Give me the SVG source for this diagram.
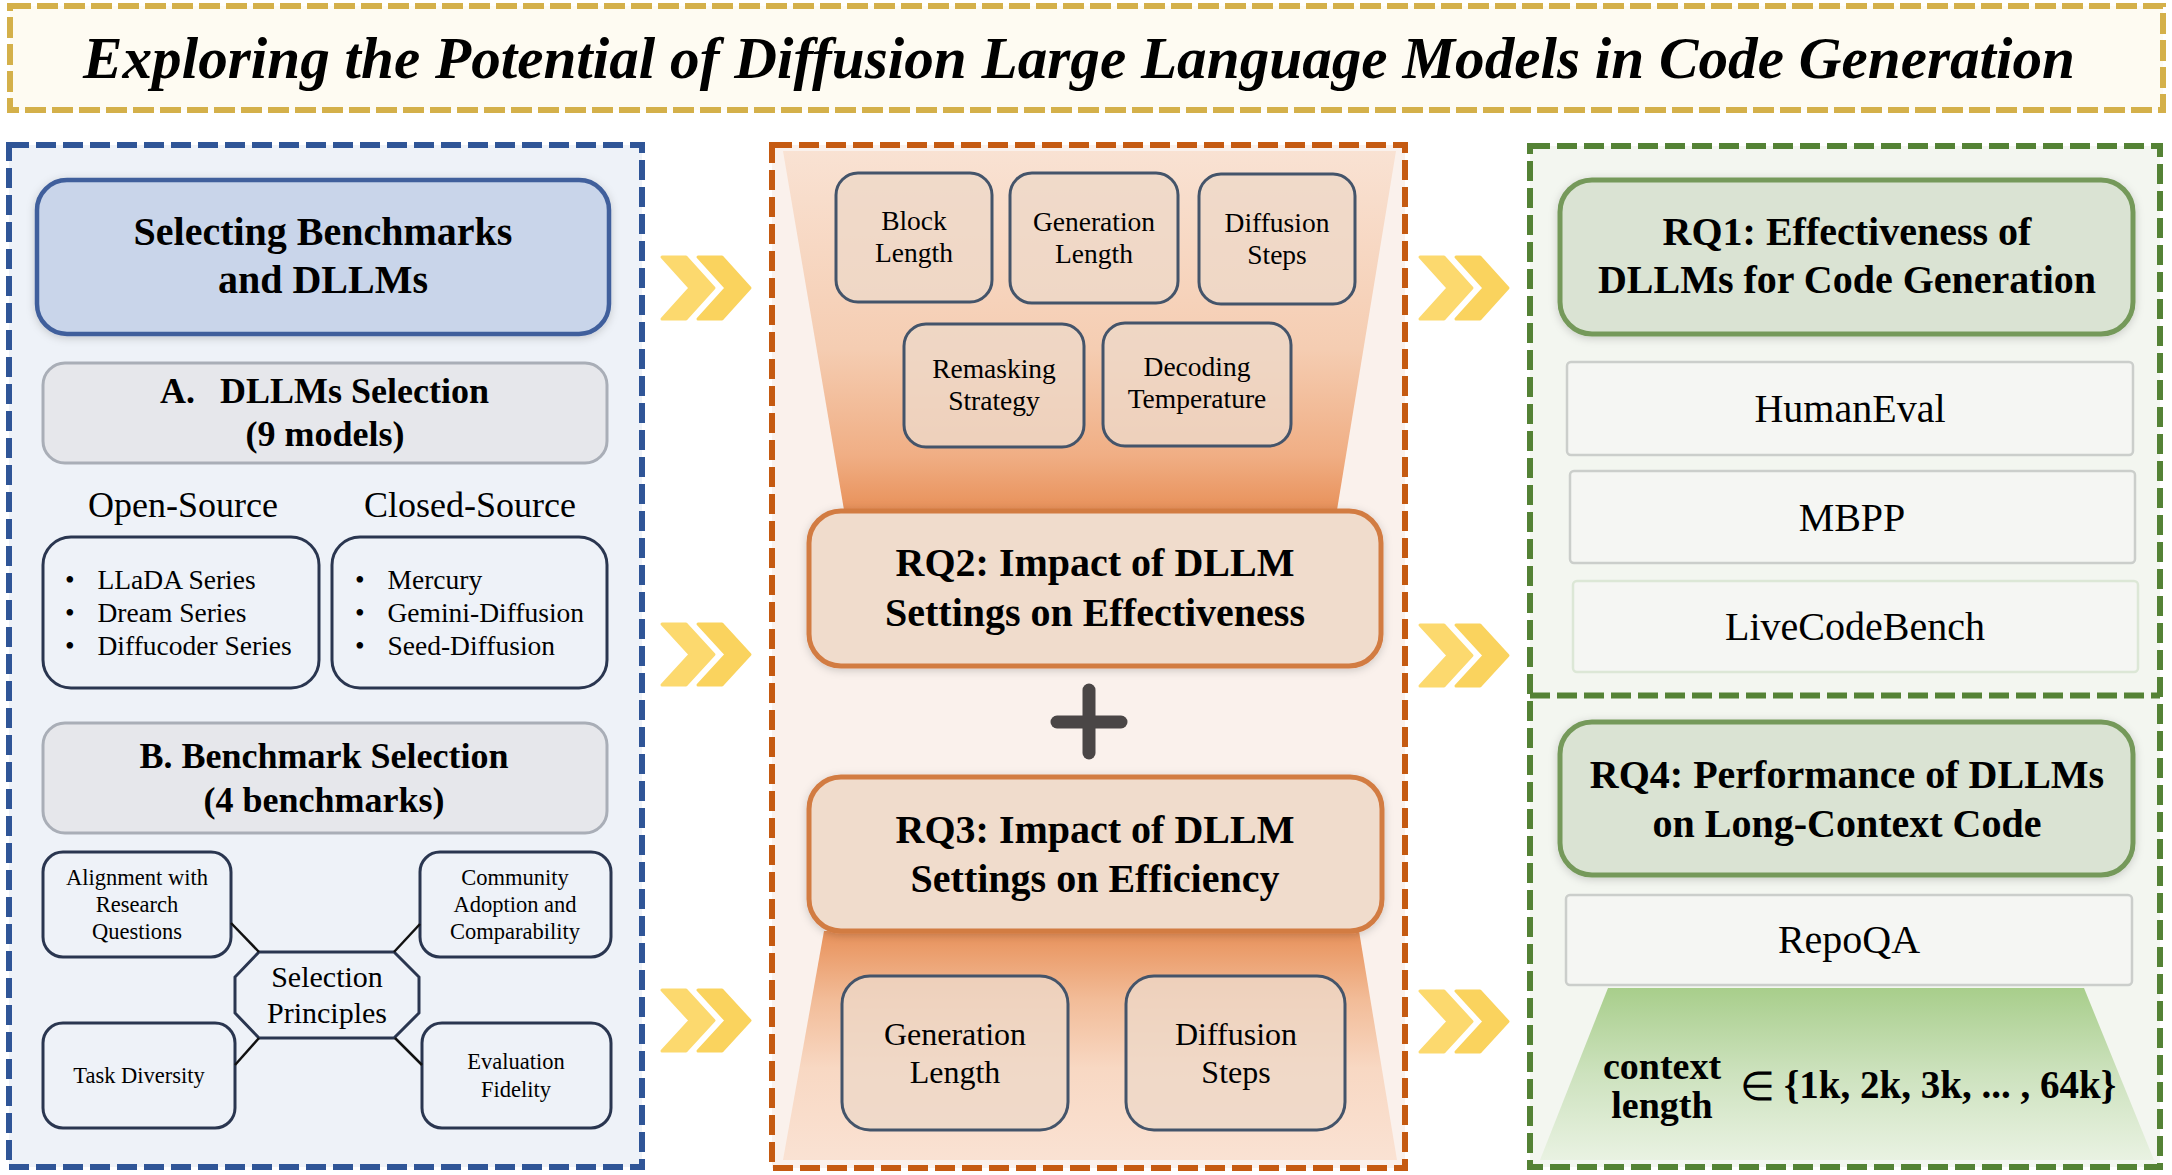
<svg xmlns="http://www.w3.org/2000/svg" width="2172" height="1175" viewBox="0 0 2172 1175">
<defs>
  <style>
    .title { font-family: "Liberation Serif", "Times New Roman", serif; font-weight: bold; font-style: italic; font-size: 59px; fill: #000; }
    .hb { font-family: "Liberation Serif", "Times New Roman", serif; font-weight: bold; fill: #000; text-anchor: middle; }
    .hbl { font-family: "Liberation Serif", "Times New Roman", serif; font-weight: bold; fill: #000; text-anchor: start; }
    .rg { font-family: "Liberation Serif", "Times New Roman", serif; fill: #000; text-anchor: middle; }
    .rgl { font-family: "Liberation Serif", "Times New Roman", serif; fill: #000; text-anchor: start; }
    .small { fill: #EEF2F8; stroke: #2A3650; stroke-width: 3; }
    .grey { fill: #E6E7EB; stroke: #A9AEB7; stroke-width: 3; }
    .param { fill: #EDD8C8; fill-opacity: 0.8; stroke: #44546A; stroke-width: 3; }
    .rqo { fill: #F0DCCC; stroke: #D27B43; stroke-width: 5; }
    .rqg { fill: #DAE3D3; stroke: #74995A; stroke-width: 5; }
    .bench { fill: #F5F6F3; stroke: #CBCECB; stroke-width: 2.5; }
    .chev1 { fill: #FCD96E; stroke: #FCD96E; stroke-width: 3; stroke-linejoin: round; }
    .chev2 { fill: #FAD35E; stroke: #FAD35E; stroke-width: 3; stroke-linejoin: round; }
    .conn { stroke: #111; stroke-width: 2.5; fill: none; }
  </style>
  <filter id="sh" x="-10%" y="-10%" width="120%" height="130%">
    <feDropShadow dx="0" dy="2" stdDeviation="4" flood-color="#000" flood-opacity="0.18"/>
  </filter>
  <linearGradient id="gTop" x1="0" y1="0" x2="0" y2="1">
    <stop offset="0" stop-color="#F9E2D3"/>
    <stop offset="0.55" stop-color="#F5CDB2"/>
    <stop offset="0.85" stop-color="#F0AE84"/>
    <stop offset="1" stop-color="#E8915A"/>
  </linearGradient>
  <linearGradient id="gBot" x1="0" y1="0" x2="0" y2="1">
    <stop offset="0" stop-color="#E8915A"/>
    <stop offset="0.3" stop-color="#F2BC98"/>
    <stop offset="0.6" stop-color="#F8D8C3"/>
    <stop offset="1" stop-color="#FAE2D3"/>
  </linearGradient>
  <linearGradient id="gGreen" x1="0" y1="0" x2="0" y2="1">
    <stop offset="0" stop-color="#A8CE8B"/>
    <stop offset="0.5" stop-color="#CDE2BE"/>
    <stop offset="1" stop-color="#E9F2E2"/>
  </linearGradient>
</defs>

<rect width="2172" height="1175" fill="#FFFFFF"/>

<!-- Title -->
<g id="title">
  <rect x="10" y="6" width="2153" height="104" fill="#FEFBF2" stroke="#D4B04A" stroke-width="6" stroke-dasharray="21 6"/>
  <text class="title" x="1079" y="78" text-anchor="middle" textLength="1992" lengthAdjust="spacingAndGlyphs">Exploring the Potential of Diffusion Large Language Models in Code Generation</text>
</g>

<!-- Panels -->
<g id="panel-left">
  <rect x="9" y="145" width="633" height="1022" fill="#EEF2F8" stroke="#2F5597" stroke-width="6" stroke-dasharray="20 7"/>
</g>
<g id="panel-center">
  <rect x="772" y="145" width="633" height="1023" fill="#FAF1EC" stroke="#C55A11" stroke-width="6" stroke-dasharray="20 7"/>
  <polygon points="783,151 1396,151 1337,510 844,510" fill="url(#gTop)"/>
  <polygon points="824,931 1359,931 1397,1160 783,1160" fill="url(#gBot)"/>
</g>
<g id="panel-right">
  <rect x="1530" y="146" width="630" height="1021" fill="#F3F6F0" stroke="#548235" stroke-width="6" stroke-dasharray="20 7"/>
  <line x1="1530" y1="695.5" x2="2160" y2="695.5" stroke="#548235" stroke-width="6" stroke-dasharray="20 7"/>
  <polygon points="1608,988 2084,988 2154,1160 1540,1160" fill="url(#gGreen)"/>
</g>

<!-- Left column nodes -->
<g id="node-selecting">
  <rect x="37" y="180" width="572" height="154" rx="30" fill="#C9D5EA" stroke="#3F5F9C" stroke-width="4.5" filter="url(#sh)"/>
  <text class="hb" x="323" y="245" font-size="40">Selecting Benchmarks</text>
  <text class="hb" x="323" y="293" font-size="40">and DLLMs</text>
</g>
<g id="node-dllm-selection">
  <rect class="grey" x="43" y="363" width="564" height="100" rx="22"/>
  <text class="hbl" font-size="36" y="403"><tspan x="160">A.</tspan><tspan x="220">DLLMs Selection</tspan></text>
  <text class="hb" x="325" y="446" font-size="36">(9 models)</text>
</g>
<g id="label-open">
  <text class="rg" x="183" y="517" font-size="36">Open-Source</text>
</g>
<g id="label-closed">
  <text class="rg" x="470" y="517" font-size="36">Closed-Source</text>
</g>
<g id="node-open">
  <rect class="small" x="43" y="537" width="276" height="151" rx="28"/>
  <g font-size="27.5">
    <text class="rgl" x="65" y="589">•</text><text class="rgl" x="97.5" y="589">LLaDA Series</text>
    <text class="rgl" x="65" y="622">•</text><text class="rgl" x="97.5" y="622">Dream Series</text>
    <text class="rgl" x="65" y="655">•</text><text class="rgl" x="97.5" y="655">Diffucoder Series</text>
  </g>
</g>
<g id="node-closed">
  <rect class="small" x="332" y="537" width="275" height="151" rx="28"/>
  <g font-size="27.5">
    <text class="rgl" x="355" y="589">•</text><text class="rgl" x="387.5" y="589">Mercury</text>
    <text class="rgl" x="355" y="622">•</text><text class="rgl" x="387.5" y="622">Gemini-Diffusion</text>
    <text class="rgl" x="355" y="655">•</text><text class="rgl" x="387.5" y="655">Seed-Diffusion</text>
  </g>
</g>
<g id="node-benchmark-selection">
  <rect class="grey" x="43" y="723" width="564" height="110" rx="22"/>
  <text class="hb" x="324" y="768" font-size="36">B. Benchmark Selection</text>
  <text class="hb" x="324" y="812" font-size="36">(4 benchmarks)</text>
</g>
<g id="node-alignment">
  <rect class="small" x="43" y="852" width="188" height="105" rx="20"/>
  <text class="rg" x="137" y="885" font-size="22.5">Alignment with</text>
  <text class="rg" x="137" y="912" font-size="22.5">Research</text>
  <text class="rg" x="137" y="939" font-size="22.5">Questions</text>
</g>
<g id="node-community">
  <rect class="small" x="420" y="852" width="191" height="105" rx="20"/>
  <text class="rg" x="515" y="885" font-size="22.5">Community</text>
  <text class="rg" x="515" y="912" font-size="22.5">Adoption and</text>
  <text class="rg" x="515" y="939" font-size="22.5">Comparability</text>
</g>
<g id="node-principles">
  <polygon class="small" points="259,952 394,952 419,977 419,1013 394,1038 259,1038 235,1013 235,977"/>
  <text class="rg" x="327" y="987" font-size="30">Selection</text>
  <text class="rg" x="327" y="1023" font-size="30">Principles</text>
</g>
<g id="node-task">
  <rect class="small" x="43" y="1023" width="192" height="105" rx="20"/>
  <text class="rg" x="139" y="1083" font-size="22.5">Task Diversity</text>
</g>
<g id="node-fidelity">
  <rect class="small" x="422" y="1023" width="189" height="105" rx="20"/>
  <text class="rg" x="516" y="1069" font-size="22.5">Evaluation</text>
  <text class="rg" x="516" y="1097" font-size="22.5">Fidelity</text>
</g>

<!-- Center column nodes -->
<g id="node-block">
  <rect class="param" x="836" y="173" width="156" height="129" rx="22"/>
  <text class="rg" x="914" y="230" font-size="27.5">Block</text>
  <text class="rg" x="914" y="262" font-size="27.5">Length</text>
</g>
<g id="node-genlen">
  <rect class="param" x="1010" y="173" width="168" height="130" rx="22"/>
  <text class="rg" x="1094" y="231" font-size="27.5">Generation</text>
  <text class="rg" x="1094" y="263" font-size="27.5">Length</text>
</g>
<g id="node-steps">
  <rect class="param" x="1199" y="174" width="156" height="130" rx="22"/>
  <text class="rg" x="1277" y="232" font-size="27.5">Diffusion</text>
  <text class="rg" x="1277" y="264" font-size="27.5">Steps</text>
</g>
<g id="node-remask">
  <rect class="param" x="904" y="324" width="180" height="123" rx="22"/>
  <text class="rg" x="994" y="378" font-size="27.5">Remasking</text>
  <text class="rg" x="994" y="410" font-size="27.5">Strategy</text>
</g>
<g id="node-temp">
  <rect class="param" x="1103" y="323" width="188" height="123" rx="22"/>
  <text class="rg" x="1197" y="376" font-size="27.5">Decoding</text>
  <text class="rg" x="1197" y="408" font-size="27.5">Temperature</text>
</g>
<g id="node-rq2">
  <rect class="rqo" x="809" y="511" width="572" height="155" rx="32" filter="url(#sh)"/>
  <text class="hb" x="1095" y="576" font-size="40">RQ2: Impact of DLLM</text>
  <text class="hb" x="1095" y="626" font-size="40">Settings on Effectiveness</text>
</g>
<g id="plus">
  <line x1="1089" y1="690" x2="1089" y2="753" stroke="#4A4646" stroke-width="13" stroke-linecap="round"/>
  <line x1="1057" y1="722" x2="1121" y2="722" stroke="#4A4646" stroke-width="13" stroke-linecap="round"/>
</g>
<g id="node-rq3">
  <rect class="rqo" x="809" y="777" width="573" height="154" rx="32" filter="url(#sh)"/>
  <text class="hb" x="1095" y="843" font-size="40">RQ3: Impact of DLLM</text>
  <text class="hb" x="1095" y="892" font-size="40">Settings on Efficiency</text>
</g>
<g id="node-genlen2">
  <rect class="param" x="842" y="976" width="226" height="154" rx="28"/>
  <text class="rg" x="955" y="1045" font-size="32">Generation</text>
  <text class="rg" x="955" y="1083" font-size="32">Length</text>
</g>
<g id="node-steps2">
  <rect class="param" x="1126" y="976" width="219" height="154" rx="28"/>
  <text class="rg" x="1236" y="1045" font-size="32">Diffusion</text>
  <text class="rg" x="1236" y="1083" font-size="32">Steps</text>
</g>

<!-- Right column nodes -->
<g id="node-rq1">
  <rect class="rqg" x="1560" y="180" width="573" height="154" rx="32" filter="url(#sh)"/>
  <text class="hb" x="1847" y="245" font-size="40">RQ1: Effectiveness of</text>
  <text class="hb" x="1847" y="293" font-size="40">DLLMs for Code Generation</text>
</g>
<g id="node-humaneval">
  <rect class="bench" x="1567" y="362" width="566" height="93" rx="4"/>
  <text class="rg" x="1850" y="422" font-size="40">HumanEval</text>
</g>
<g id="node-mbpp">
  <rect class="bench" x="1570" y="471" width="565" height="92" rx="4"/>
  <text class="rg" x="1852" y="531" font-size="40">MBPP</text>
</g>
<g id="node-livecodebench">
  <rect class="bench" x="1573" y="581" width="565" height="91" rx="4" style="stroke:#DCE7D6"/>
  <text class="rg" x="1855" y="640" font-size="40">LiveCodeBench</text>
</g>
<g id="node-rq4">
  <rect class="rqg" x="1560" y="722" width="573" height="153" rx="32" filter="url(#sh)"/>
  <text class="hb" x="1847" y="788" font-size="40">RQ4: Performance of DLLMs</text>
  <text class="hb" x="1847" y="837" font-size="40">on Long-Context Code</text>
</g>
<g id="node-repoqa">
  <rect class="bench" x="1566" y="895" width="566" height="90" rx="4"/>
  <text class="rg" x="1849" y="953" font-size="40">RepoQA</text>
</g>
<g id="node-context">
  <text class="hb" x="1662" y="1079" font-size="38">context</text>
  <text class="hb" x="1662" y="1118" font-size="38">length</text>
  <text class="rgl" x="1740" y="1100" font-size="40">∈</text>
  <text class="hbl" x="1784" y="1098" font-size="39">{1k, 2k, 3k, ... , 64k}</text>
</g>

<!-- Connectors -->
<g id="connectors">
  <line class="conn" x1="231" y1="923" x2="259" y2="952"/>
  <line class="conn" x1="420" y1="924" x2="394" y2="952"/>
  <line class="conn" x1="235" y1="1065" x2="259" y2="1038"/>
  <line class="conn" x1="422" y1="1065" x2="395" y2="1038"/>
  <polygon class="chev1" points="662,257 686,257 714,288 686,319 662,319 690,288"/>
  <polygon class="chev2" points="698,257 722,257 750,288 722,319 698,319 726,288"/>
  <polygon class="chev1" points="662,624 686,624 714,654.5 686,685 662,685 690,654.5"/>
  <polygon class="chev2" points="698,624 722,624 750,654.5 722,685 698,685 726,654.5"/>
  <polygon class="chev1" points="662,990 686,990 714,1020.5 686,1051 662,1051 690,1020.5"/>
  <polygon class="chev2" points="698,990 722,990 750,1020.5 722,1051 698,1051 726,1020.5"/>
  <polygon class="chev1" points="1420,257 1444,257 1472,288 1444,319 1420,319 1448,288"/>
  <polygon class="chev2" points="1456,257 1480,257 1508,288 1480,319 1456,319 1484,288"/>
  <polygon class="chev1" points="1420,625 1444,625 1472,655.5 1444,686 1420,686 1448,655.5"/>
  <polygon class="chev2" points="1456,625 1480,625 1508,655.5 1480,686 1456,686 1484,655.5"/>
  <polygon class="chev1" points="1420,991 1444,991 1472,1021.5 1444,1052 1420,1052 1448,1021.5"/>
  <polygon class="chev2" points="1456,991 1480,991 1508,1021.5 1480,1052 1456,1052 1484,1021.5"/>
</g>
</svg>
